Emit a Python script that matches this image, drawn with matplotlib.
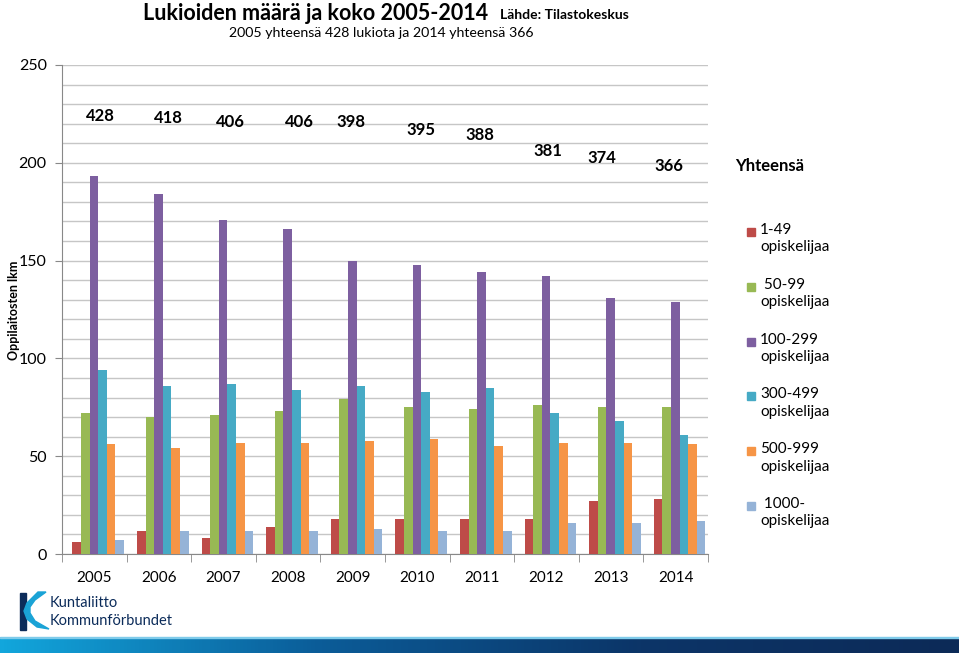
import numpy as np
import matplotlib
matplotlib.use("Agg")
import matplotlib.pyplot as plt
from matplotlib.patches import Rectangle, Polygon
from matplotlib.colors import LinearSegmentedColormap

plt.rcParams['font.family'] = ['Lato', 'DejaVu Sans']

years = ['2005', '2006', '2007', '2008', '2009', '2010', '2011', '2012', '2013', '2014']
totals = [428, 418, 406, 406, 398, 395, 388, 381, 374, 366]

size_1_49 = [6, 12, 8, 14, 18, 18, 18, 18, 27, 28]
size_50_99 = [72, 70, 71, 73, 79, 75, 74, 76, 75, 75]
size_100_299 = [193, 184, 171, 166, 150, 148, 144, 142, 131, 129]
size_300_499 = [94, 86, 87, 84, 86, 83, 85, 72, 68, 61]
size_500_999 = [56, 54, 57, 57, 58, 59, 55, 57, 57, 56]
size_1000 = [7, 12, 12, 12, 13, 12, 12, 16, 16, 17]

series_labels = ['1-49\nopiskelijaa', ' 50-99\nopiskelijaa', '100-299\nopiskelijaa',
                 '300-499\nopiskelijaa', '500-999\nopiskelijaa', ' 1000-\nopiskelijaa']
colors = ['#BE4B48', '#98B954', '#7D5FA0', '#46AAC5', '#F69546', '#95B3D7']

# hand-placed total labels (data y, x offset in slot units) like in the original slide
label_y = [224, 223, 221, 221, 221, 217, 214, 206, 202.5, 198.4]
label_dx = [0.09, 0.14, 0.11, 0.17, -0.02, 0.05, -0.03, 0.02, -0.14, -0.11]

W, H = 959, 653
fig = plt.figure(figsize=(W / 100, H / 100), dpi=100)

def fx(px):
    return px / W

def fy(py):
    return 1 - py / H

ax = fig.add_axes([fx(62), fy(554), fx(708) - fx(62), fy(65) - fy(554)])

all_series = [size_1_49, size_50_99, size_100_299, size_300_499, size_500_999, size_1000]
x = np.arange(len(years))
w = 0.133
for j, (vals, c) in enumerate(zip(all_series, colors)):
    ax.bar(x + (j - 2.5) * w + 0.06, vals, width=w, color=c, edgecolor='none', zorder=3)

ax.set_xlim(-0.5, len(years) - 0.5)
ax.set_ylim(0, 250)
ax.set_yticks(range(0, 251, 50))
ax.set_yticks(range(0, 251, 10), minor=True)
ax.yaxis.grid(True, which='both', color='#C6C6C6', lw=1, zorder=0)
ax.set_xticks(x)
ax.set_xticklabels(years, fontsize=11)
ax.set_xticks(np.arange(-0.5, len(years)), minor=True)
ax.tick_params(axis='x', which='major', length=0, pad=12)
ax.tick_params(axis='x', which='minor', length=6, color='#888888')
ax.tick_params(axis='y', which='major', length=5, color='#888888', labelsize=11.5, pad=6)
ax.tick_params(axis='y', which='minor', length=0)
for s in ['top', 'right']:
    ax.spines[s].set_visible(False)
for s in ['left', 'bottom']:
    ax.spines[s].set_color('#888888')
fig.text(fx(14), fy(310), 'Oppilaitosten lkm', rotation=90, ha='center', va='center',
         fontsize=9, fontweight='bold')

for i, t in enumerate(totals):
    ax.text(i + label_dx[i], label_y[i], str(t), ha='center', va='center',
            fontsize=12, fontweight='bold')
fig.text(fx(735), fy(166), 'Yhteensä', ha='left', va='center', fontsize=12, fontweight='bold')

# titles
fig.text(fx(143), fy(13), 'Lukioiden määrä ja koko 2005-2014', ha='left', va='center',
         fontsize=15.5, fontweight='bold')
fig.text(fx(500), fy(15), 'Lähde: Tilastokeskus', ha='left', va='center',
         fontsize=10, fontweight='bold')
fig.text(fx(381), fy(33), '2005 yhteensä 428 lukiota ja 2014 yhteensä 366', ha='center',
         va='center', fontsize=10.2)

# legend drawn by hand so the square sits at the first text line
for k, (lab, c) in enumerate(zip(series_labels, colors)):
    top = 232 + k * 54.8
    fig.patches.append(Rectangle((fx(747), fy(top + 4)), fx(8), 8 / H, color=c,
                                 transform=fig.transFigure))
    fig.text(fx(760), fy(top - 9), lab, ha='left', va='top', fontsize=11, linespacing=1.3)

# bottom gradient band
band = fig.add_axes([0, 0, 1, fy(637)])
cmap = LinearSegmentedColormap.from_list('band', ['#12A6DC', '#0B5C98', '#0C3568', '#0C2A57'])
band.imshow(np.linspace(0, 1, 256).reshape(1, -1), aspect='auto', cmap=cmap, extent=(0, 1, 0, 1))
band.axis('off')
fig.patches.append(Rectangle((0, fy(638)), 1, 1.5 / H, color='#7FCBEA', transform=fig.transFigure))

# logo
logo = fig.add_axes([fx(15), fy(633), fx(40), fy(590) - fy(633)])
logo.set_xlim(0, 40)
logo.set_ylim(0, 43)
logo.axis('off')
logo.add_patch(Polygon([(5, 3), (11, 3), (11, 40), (5, 40)], color='#0C2C5A'))
logo.add_patch(Polygon([(31, 41), (23, 41), (12, 30), (9, 22), (12, 14), (22, 6), (34, 4),
                        (20, 12), (15, 20), (15, 26), (20, 33)], color='#1AA3D6'))
fig.text(fx(50), fy(603), 'Kuntaliitto', ha='left', va='center', fontsize=10.5,
         color='#0C2C5A')
fig.text(fx(50), fy(621), 'Kommunförbundet', ha='left', va='center', fontsize=10.5,
         color='#0C2C5A')

fig.savefig('out.png', dpi=100)
